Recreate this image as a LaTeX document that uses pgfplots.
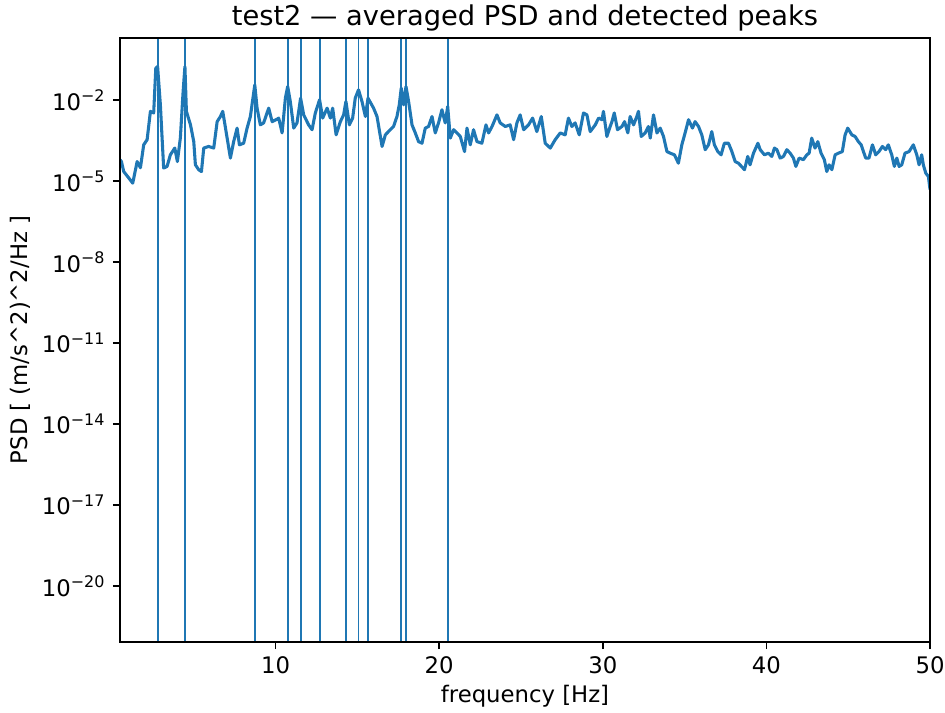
\documentclass[border=0pt]{standalone}
\usepackage{fontspec}
\setmainfont{DejaVu Sans}
\usepackage{pgfplots}
\pgfplotsset{compat=1.18}
\definecolor{c0}{RGB}{31,119,180}
\pgfplotstableread{
f v
0.49 6.3e-5
0.58 5.37e-5
0.72 2.29e-5
1.03 1.32e-5
1.27 8.51e-6
1.54 5.37e-5
1.74 3.16e-5
1.94 2.24e-4
2.15 3.47e-4
2.35 3.89e-3
2.55 3.39e-3
2.68 0.155
2.79 0.178
2.96 6.76e-3
3.16 3.09e-5
3.37 3.55e-5
3.57 9.55e-5
3.84 1.70e-4
4.00 5.37e-5
4.18 3.98e-4
4.35 2.14e-2
4.46 0.178
4.55 3.89e-3
4.80 1.23e-3
5.00 2.95e-4
5.10 4.07e-5
5.30 2.69e-5
5.47 2.29e-5
5.61 1.70e-4
5.91 1.95e-4
6.22 1.70e-4
6.43 1.62e-3
6.63 2.51e-3
6.77 3.89e-3
6.94 9.33e-4
7.24 7.24e-5
7.44 2.95e-4
7.65 9.33e-4
7.79 2.24e-4
8.05 2.57e-4
8.26 9.33e-4
8.46 2.51e-3
8.73 3.72e-2
8.87 5.13e-3
9.07 1.23e-3
9.27 1.45e-3
9.58 5.13e-3
9.79 1.62e-3
10.09 2.0e-3
10.19 2.19e-3
10.40 6.17e-4
10.60 1.20e-2
10.74 3.24e-2
10.90 9.12e-3
11.11 9.33e-4
11.31 1.45e-3
11.53 1.20e-2
11.72 2.88e-3
12.02 1.23e-3
12.23 8.13e-4
12.43 3.39e-3
12.69 1.05e-2
12.88 2.19e-3
13.15 5.13e-3
13.35 2.19e-3
13.49 5.13e-3
13.70 5.25e-4
13.96 1.62e-3
14.16 2.88e-3
14.30 9.12e-3
14.51 1.23e-3
14.71 2.19e-3
14.87 1.20e-2
15.07 2.45e-2
15.28 9.12e-3
15.49 2.51e-3
15.65 1.20e-2
15.99 5.13e-3
16.20 2.51e-3
16.51 1.95e-4
16.71 5.25e-4
17.01 8.13e-4
17.21 1.07e-3
17.42 2.51e-3
17.56 6.76e-3
17.68 2.82e-2
17.83 6.76e-3
17.97 3.24e-2
18.13 9.12e-3
18.34 1.23e-3
18.54 6.17e-4
18.74 2.95e-4
18.95 2.57e-4
19.15 9.33e-4
19.35 1.07e-3
19.56 2.51e-3
19.76 6.17e-4
19.96 1.45e-3
20.17 4.47e-3
20.37 1.45e-3
20.52 5.89e-3
20.68 3.98e-4
20.88 8.13e-4
21.09 6.17e-4
21.29 4.57e-4
21.55 1.26e-4
21.70 9.33e-4
21.90 2.24e-4
22.10 8.13e-4
22.31 2.95e-4
22.61 2.57e-4
22.86 1.23e-3
23.02 6.17e-4
23.23 1.07e-3
23.53 2.88e-3
23.73 1.45e-3
24.04 1.07e-3
24.34 1.23e-3
24.55 3.47e-4
24.75 1.45e-3
24.95 2.88e-3
25.16 8.13e-4
25.46 1.23e-3
25.71 2.19e-3
25.97 6.92e-4
26.24 2.51e-3
26.48 2.57e-4
26.79 1.70e-4
27.09 3.47e-4
27.40 6.17e-4
27.70 5.25e-4
27.90 2.19e-3
28.11 1.07e-3
28.31 1.45e-3
28.56 5.25e-4
28.82 3.39e-3
29.03 2.88e-3
29.23 6.92e-4
29.54 1.23e-3
29.74 2.19e-3
29.95 1.91e-3
30.04 3.89e-3
30.25 4.57e-4
30.45 1.07e-3
30.56 1.62e-3
30.70 3.39e-3
30.90 8.13e-4
31.17 1.07e-3
31.33 1.62e-3
31.53 6.17e-4
31.67 2.51e-3
31.88 1.23e-3
32.08 2.51e-3
32.18 3.89e-3
32.35 4.57e-4
32.59 6.17e-4
32.79 1.07e-3
32.90 3.98e-4
33.10 2.88e-3
33.31 6.17e-4
33.51 9.33e-4
33.71 4.57e-4
33.92 1.26e-4
34.12 1.10e-4
34.38 9.55e-5
34.62 4.68e-5
34.83 2.24e-4
35.03 6.17e-4
35.24 1.91e-3
35.48 9.33e-4
35.64 1.62e-3
35.85 1.07e-3
36.05 5.25e-4
36.26 1.48e-4
36.46 2.24e-4
36.66 6.92e-4
36.82 2.24e-4
37.03 1.26e-4
37.23 9.55e-5
37.43 2.57e-4
37.68 2.57e-4
37.89 1.26e-4
38.09 5.37e-5
38.29 4.68e-5
38.66 2.69e-5
38.86 8.32e-5
39.00 4.07e-5
39.21 1.10e-4
39.48 2.57e-4
39.62 1.48e-4
39.88 9.55e-5
40.12 1.10e-4
40.33 8.32e-5
40.49 1.70e-4
40.64 1.48e-4
40.84 7.24e-5
41.04 8.32e-5
41.25 1.48e-4
41.45 1.10e-4
41.65 7.24e-5
41.80 3.55e-5
42.00 7.24e-5
42.26 6.31e-5
42.47 9.55e-5
42.61 1.10e-4
42.77 3.98e-4
42.97 1.70e-4
43.14 2.95e-4
43.34 1.10e-4
43.54 6.31e-5
43.69 2.29e-5
43.83 4.07e-5
44.00 2.69e-5
44.20 9.55e-5
44.40 1.10e-4
44.64 1.26e-4
44.81 5.25e-4
44.97 9.33e-4
45.22 5.25e-4
45.42 4.57e-4
45.62 2.95e-4
45.79 2.24e-4
45.93 1.26e-4
46.07 7.24e-5
46.27 7.24e-5
46.48 2.24e-4
46.68 9.55e-5
46.88 1.26e-4
47.09 1.95e-4
47.29 1.48e-4
47.45 2.24e-4
47.66 9.55e-5
47.82 3.55e-5
47.97 7.24e-5
48.11 3.55e-5
48.27 4.07e-5
48.47 1.10e-4
48.72 1.26e-4
48.98 2.24e-4
49.19 9.55e-5
49.33 4.07e-5
49.49 9.55e-5
49.59 4.07e-5
49.74 2.00e-5
49.90 1.51e-5
50.00 5.0e-6
}\psd
\pgfplotstableread{
f v
2.79 1e-25
2.79 100
2.79 nan
4.46 1e-25
4.46 100
4.46 nan
8.73 1e-25
8.73 100
8.73 nan
10.74 1e-25
10.74 100
10.74 nan
11.53 1e-25
11.53 100
11.53 nan
12.69 1e-25
12.69 100
12.69 nan
14.30 1e-25
14.30 100
14.30 nan
15.07 1e-25
15.07 100
15.07 nan
15.65 1e-25
15.65 100
15.65 nan
17.68 1e-25
17.68 100
17.68 nan
17.97 1e-25
17.97 100
17.97 nan
20.52 1e-25
20.52 100
20.52 nan
}\peaks
\begin{document}
\begin{tikzpicture}
\path[use as bounding box] (-58.5pt,-34.6pt) rectangle (402.3pt,313pt);
\begin{axis}[
  scale only axis, width=395pt, height=294.5pt,
  at={(0,0)}, anchor=south west,
  ymode=log, xmin=0.49, xmax=50, ymin=8.7e-23, ymax=2.04,
  axis on top,
  axis line style={line width=0.8pt},
  tick align=outside, xtick pos=bottom, ytick pos=left,
  major tick length=3.5pt, tick style={line width=0.8pt, black},
  xtick={10,20,30,40,50}, xticklabels={10,20,30,40,50},
  ytick={1e-20,1e-17,1e-14,1e-11,1e-8,1e-5,1e-2},
  yticklabels={10\textsuperscript{−20},10\textsuperscript{−17},10\textsuperscript{−14},10\textsuperscript{−11},10\textsuperscript{−8},10\textsuperscript{−5},10\textsuperscript{−2}},
  yminorticks=false, xminorticks=false,
  ticklabel style={font=\fontsize{11.1}{13}\selectfont},
  title={test2 — averaged PSD and detected peaks},
  title style={font=\fontsize{13.3}{16}\selectfont, at={(axis description cs:0.5,1)}, anchor=base},
  xlabel={frequency [Hz]}, ylabel={PSD [ (m/s\textasciicircum 2)\textasciicircum 2/Hz ]},
  label style={font=\fontsize{11.1}{13}\selectfont},
  xlabel style={at={(axis description cs:0.5,-0.0895)}, anchor=center},
  ylabel style={at={(axis description cs:-0.1233,0.5)}, anchor=center},
  unbounded coords=jump,
]
\addplot[c0, line width=1.5pt, line join=round, mark=none] table[x=f, y=v] {\psd};
\addplot[c0, line width=0.9pt, mark=none] table[x=f, y=v] {\peaks};
\end{axis}
\end{tikzpicture}
\end{document}
